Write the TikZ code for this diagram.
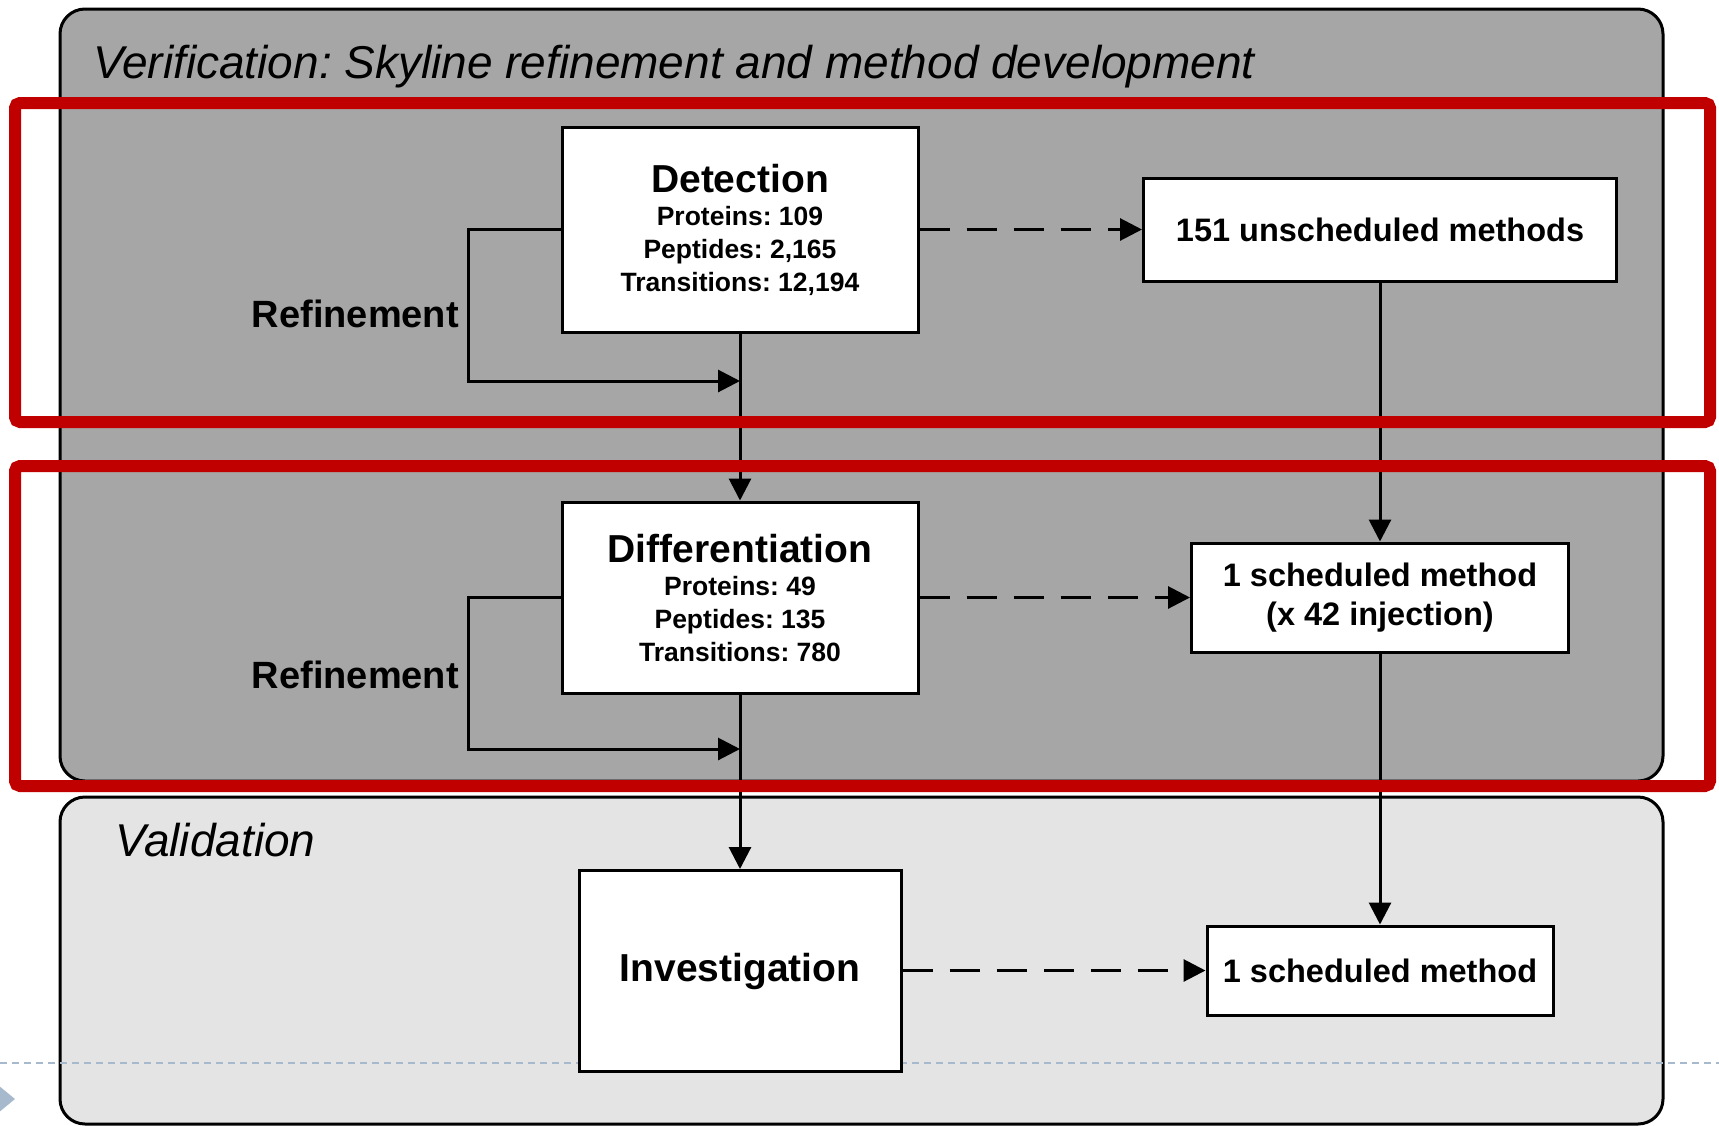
\documentclass[tikz,border=0pt]{standalone}
\usepackage{fontspec}
\setmainfont{Liberation Sans}
\usetikzlibrary{positioning,arrows.meta}
\definecolor{panel_dark}  {HTML} {A6A6A6}
\definecolor{panel_light} {HTML} {E4E4E4}
\definecolor{frame_red}   {HTML} {C00000}
\definecolor{slide_blue}  {HTML} {A7B9CC}
\frenchspacing

\begin{document}
\begin{tikzpicture}[x=1pt,y=-1pt,
  box/.style={draw=black,fill=white,line width=3pt,align=center,inner sep=0pt,font=\bfseries\fontsize{26.5}{33}\selectfont},
  flow/.style={line width=3pt,-{Triangle[length=22pt,width=22pt]}},
  dflow/.style={flow,dash pattern=on 30pt off 17pt},
  panel/.style={draw=black,line width=3pt,rounded corners=25pt},
  redframe/.style={draw=frame_red,line width=12pt,rounded corners=5pt},
  heading/.style={anchor=base west,inner sep=0pt,font=\itshape\fontsize{46}{46}\selectfont},
  loop/.style={anchor=base east,inner sep=0pt,font=\bfseries\fontsize{38}{38}\selectfont}]
\useasboundingbox (0,0) rectangle (1719,1125);
\clip (0,0) rectangle (1719,1125);
\draw[panel,fill=panel_dark] (60,9) rectangle (1663,781);
\draw[panel,fill=panel_light] (60,797) rectangle (1663,1124);
\node[heading] (verif) at (93,78) {Verification: Skyline refinement and method development};
\node[heading] (valid) at (115,856) {Validation};
\draw[slide_blue,line width=2pt,dash pattern=on 7pt off 5pt] (0,1063) -- (1719,1063);
\fill[slide_blue] (-2,1085) -- (15,1099) -- (-2,1113) -- cycle;
\node[box,minimum width=356pt,minimum height=205pt] (det) at (740,230) {{\fontsize{39}{33}\selectfont Detection}\\Proteins: 109\\Peptides: 2,165\\Transitions: 12,194};
\node[box,minimum width=473pt,minimum height=103pt,font=\bfseries\fontsize{32.5}{39}\selectfont] (unsched) at (1380,229.5) {151 unscheduled methods};
\node[box,minimum width=356pt,minimum height=191pt] (diff) at (740,597.5) {{\fontsize{39}{33}\selectfont Differentiation}\\Proteins: 49\\Peptides: 135\\Transitions: 780};
\node[box,minimum width=377pt,minimum height=109pt,font=\bfseries\fontsize{32.5}{39}\selectfont] (sched42) at (1380,597.5) {1 scheduled method\\(x 42 injection)};
\node[box,minimum width=322pt,minimum height=201pt,font=\bfseries\fontsize{39}{39}\selectfont] (inv) at (740,971) {Investigation};
\node[box,minimum width=346pt,minimum height=89pt,font=\bfseries\fontsize{32.5}{39}\selectfont] (sched) at (1380,970.5) {1 scheduled method};
\node[loop] (ref1) at (459,327) {Refinement};
\node[loop] (ref2) at (459,688) {Refinement};
\coordinate (back1) at (det.south |- 0,381);
\coordinate (back2) at (diff.south |- 0,749);
\draw[flow] (det) -- (diff);
\draw[flow] (diff) -- (inv);
\draw[flow] (unsched) -- (sched42);
\draw[flow] (sched42) -- (sched);
\draw[flow] (det.west |- 0,229) -- ++(-92,0) |- (back1);
\draw[flow] (diff.west |- 0,597) -- ++(-92,0) |- (back2);
\draw[dflow] (det.east |- unsched.west) -- (unsched.west);
\draw[dflow] (diff.east |- sched42.west) -- (sched42.west);
\draw[dflow] (inv.east |- sched.west) -- (sched.west);
\draw[redframe] (15,103) rectangle (1710,422);
\draw[redframe] (15,466) rectangle (1710,786);
\end{tikzpicture}
\end{document}
